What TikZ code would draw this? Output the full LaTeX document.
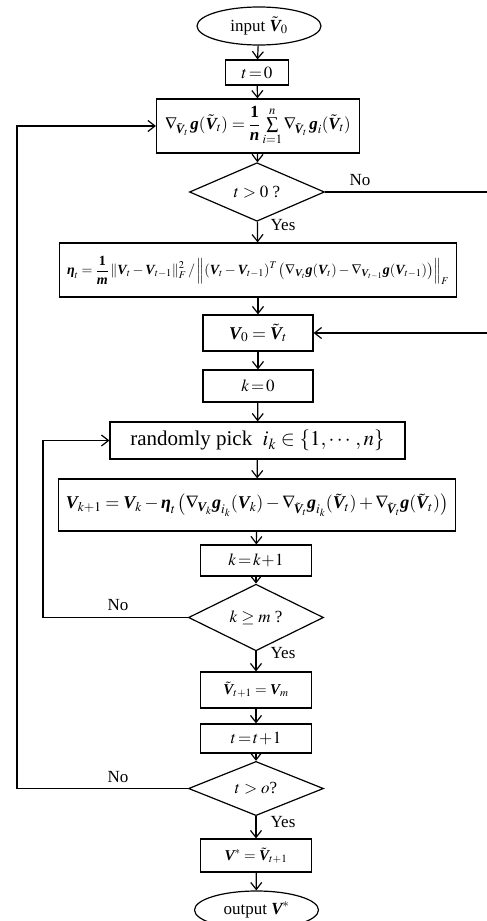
\documentclass[tikz,border=0pt]{standalone}
\usepackage{amsmath}
\usepackage{mathptmx}
\usepackage[no-math]{fontspec}
\setmainfont{Liberation Serif}
\usepackage{tikz}
\usetikzlibrary{arrows.meta,positioning,shapes}
\newcommand{\bi}[1]{\text{\bfseries\itshape #1}}
\newcommand{\bV}{\bi{V}}
\newcommand{\tV}{\tilde{\bi{V}}}

\begin{document}
\begin{tikzpicture}[x=1pt,y=-1pt,line width=1.2pt,
		>={Straight Barb[length=7pt,width=11pt]},
		font=\fontsize{17}{20}\selectfont,
		box/.style={draw, rectangle, inner sep=0pt},
		term/.style={draw, ellipse, inner sep=0pt, minimum width=124, minimum height=38},
		dec/.style={draw, diamond, inner sep=0pt, minimum width=135},
		lbl/.style={inner sep=0pt}]
			\useasboundingbox (0,0) rectangle (487,921);
			\node[term] (in) at (259,26) {input $\tV_0$};
			\node[box, minimum width=63, minimum height=25] (t0) at (257,72.5) {$t\!=\!0$};
			\node[box, minimum width=203, minimum height=54] (grad) at (258,126) {$\nabla_{\!\tV_t}\, \bi{g}(\tV_t)=\dfrac{\textbf{1}}{\bi{n}}\sum\limits_{i=1}^{n}\nabla_{\!\tV_t}\, \bi{g}_i(\tV_t)$};
			\node[dec, minimum height=40] (d1) at (257,192) {$t>0$ ?};
			\node[box, minimum width=397, minimum height=54] (eta) at (258,270) {\fontsize{14}{16}\selectfont $\bi{η}_t=\dfrac{\textbf{1}}{\bi{m}}\left\|\bV_t-\bV_{t-1}\right\|_F^2 / \left\|\left(\bV_t-\bV_{t-1}\right)^T\left(\nabla_{\bV_t}\bi{g}(\bV_t)-\nabla_{\bV_{t-1}}\bi{g}(\bV_{t-1})\right)\right\|_F$};
			\node[box, minimum width=110, minimum height=36] (v0) at (258,333) {\fontsize{18}{21}\selectfont $\bV_0=\tV_t$};
			\node[box, minimum width=110, minimum height=32] (k0) at (258,386) {$k\!=\!0$};
			\node[box, minimum width=295, minimum height=37] (pick) at (257.5,440.5) {\fontsize{21}{24}\selectfont randomly pick~ $i_k\in\{1,\cdots,n\}$};
			\node[box, minimum width=397, minimum height=52] (upd) at (257,505) {\fontsize{18}{21}\selectfont $\bV_{k+1}=\bV_k-\bi{η}_t\left(\nabla_{\!\bV_k}\bi{g}_{i_k}(\bV_k)-\nabla_{\!\tV_t}\bi{g}_{i_k}(\tV_t)+\nabla_{\!\tV_t}\bi{g}(\tV_t)\right)$};
			\node[box, minimum width=111, minimum height=31] (kinc) at (256,560.5) {$k\!=\!k\!+\!1$};
			\node[dec, minimum height=51] (d2) at (256,617.5) {$k\ge m$ ?};
			\node[box, minimum width=111, minimum height=36] (vt) at (256,690) {\fontsize{15}{18}\selectfont $\tV_{t+1}=\bV_m$};
			\node[box, minimum width=111, minimum height=29] (tinc) at (256,738.5) {$t\!=\!t\!+\!1$};
			\node[dec, minimum height=41] (d3) at (256,788.5) {$t>o$?};
			\node[box, minimum width=111, minimum height=33] (vs) at (256,855.5) {\fontsize{15}{18}\selectfont $\bV^*=\tV_{t+1}$};
			\node[term] (out) at (256.5,910) {output $\bV^*$};
			% main line
			\draw[->] (in) -- (t0);
			\draw[->] (t0) -- (grad);
			\draw[->] (grad) -- (d1);
			\draw[->] (d1) -- (eta);
			\draw[->] (eta) -- (v0);
			\draw[->] (v0) -- (k0);
			\draw[->] (k0) -- (pick);
			\draw[->] (pick) -- (upd);
			\draw[->] (upd) -- (kinc);
			\draw[->] (kinc) -- (d2);
			\draw[->] (d2) -- (vt);
			\draw[->] (vt) -- (tinc);
			\draw[->] (tinc) -- (d3);
			\draw[->] (d3) -- (vs);
			\draw[->] (vs) -- (out);
			% loops
			\coordinate (r1) at (492,0);
			\coordinate (l2) at (43,0);
			\coordinate (l3) at (17,0);
			\draw[->] (d1.east) -- (d1.east -| r1) |- (v0.east);
			\draw[->] (d2.west) -- (d2.west -| l2) |- (pick.west);
			\draw[->] (d3.west) -- (d3.west -| l3) |- (grad.west);
			% labels
			\node[lbl] (no1) at (360,180) {No};
			\node[lbl] (no2) at (118,605) {No};
			\node[lbl] (no3) at (118,777) {No};
			\node[lbl] (yes1) at (283,225) {Yes};
			\node[lbl] (yes2) at (283,653) {Yes};
			\node[lbl] (yes3) at (283,822) {Yes};
		\end{tikzpicture}
\end{document}
